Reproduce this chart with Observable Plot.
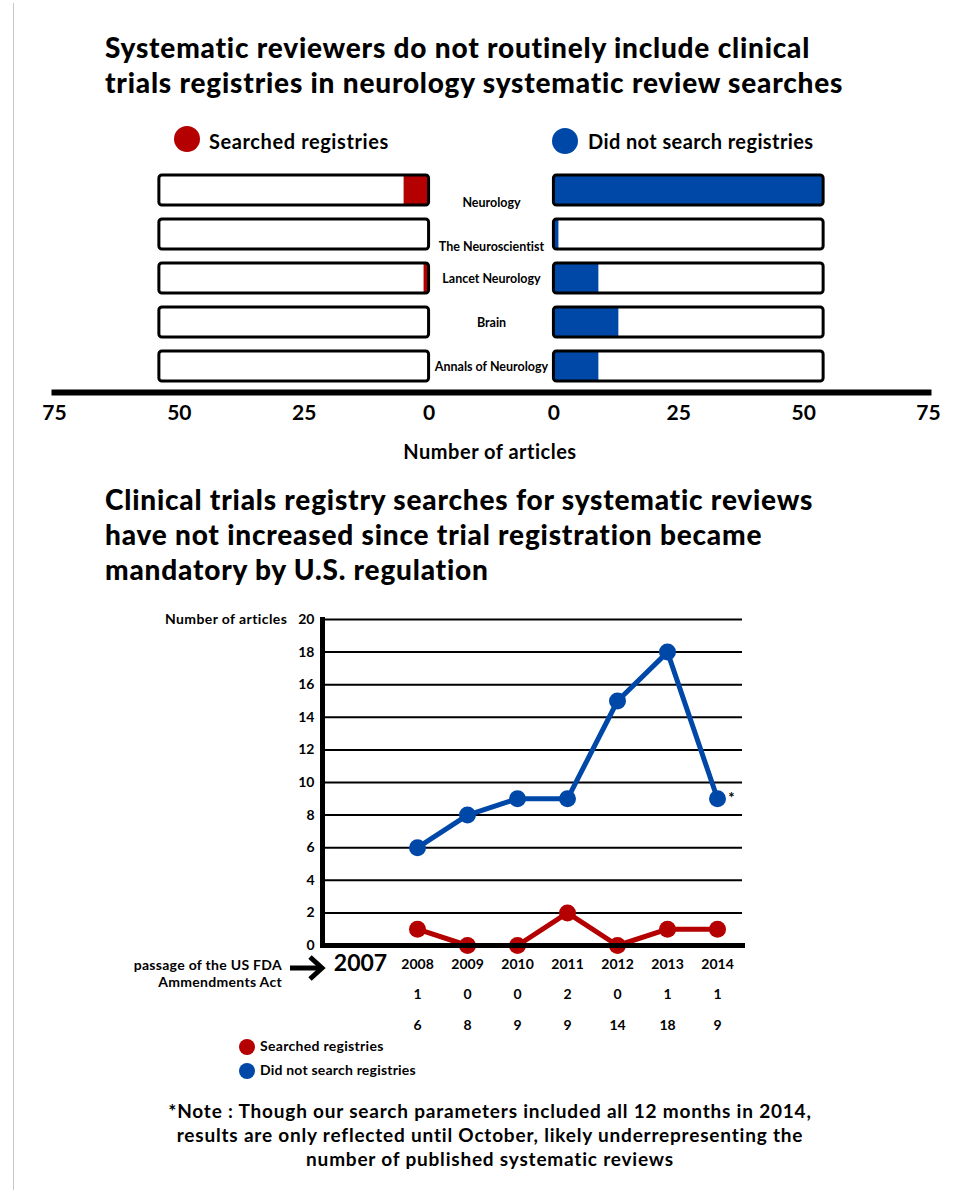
<!DOCTYPE html>
<html>
<head>
<meta charset="utf-8">
<script src="https://cdn.jsdelivr.net/npm/d3@7"></script>
<script src="https://cdn.jsdelivr.net/npm/@observablehq/plot@0.6"></script>
<style>
  html, body { margin: 0; padding: 0; background: #fff; }
  body { width: 966px; height: 1194px; overflow: hidden; font-family: Lato, "Open Sans", sans-serif; font-weight: 700; color: #000; font-variant-ligatures: none; }
  #root { position: relative; width: 966px; height: 1194px; }
  .abs { position: absolute; white-space: nowrap; }
  .title { font-size: 28px; font-weight: 900; line-height: 35px; left: 105px; letter-spacing: 0.8px; }
  .dot { position: absolute; border-radius: 50%; }
  #border { position: absolute; left: 13px; top: 3px; width: 0; height: 1187px; border-left: 1px solid #c8c8c8; }
  svg text { font-variant-ligatures: none; }
</style>
</head>
<body>
<div id="root">
  <div id="border"></div>
  <div class="abs title" style="top:30px;">Systematic reviewers do not routinely include clinical<br>trials registries in neurology systematic review searches</div>

  <div class="dot" style="left:174px;top:126px;width:26px;height:26px;background:#B40000"></div>
  <div class="abs" style="left:209px;top:129px;font-size:20px;letter-spacing:0.6px;">Searched registries</div>
  <div class="dot" style="left:552px;top:128px;width:26px;height:26px;background:#0048A8"></div>
  <div class="abs" style="left:588px;top:129px;font-size:20px;letter-spacing:0.4px;">Did not search registries</div>

  <div id="topChart" class="abs" style="left:0;top:160px;"></div>
  <div class="abs" style="left:0;width:980px;text-align:center;top:439px;font-size:20px;letter-spacing:0.5px;">Number of articles</div>

  <div class="abs title" style="top:482px;">Clinical trials registry searches for systematic reviews<br>have not increased since trial registration became<br>mandatory by U.S. regulation</div>

  <div id="bottomChart" class="abs" style="left:0;top:600px;"></div>
  <div class="abs" style="left:165px;top:610px;font-size:14px;letter-spacing:0.4px;">Number of articles</div>
  <div class="abs" style="right:684px;top:956px;font-size:14px;line-height:17px;text-align:right;letter-spacing:0.3px;">passage of the US FDA<br>Ammendments Act</div>
  <svg class="abs" style="left:288px;top:954px;" width="40" height="28" viewBox="0 0 40 28">
    <path d="M2 14 H33" stroke="#000" stroke-width="5" fill="none"/>
    <path d="M22 3 L34 14 L22 25" stroke="#000" stroke-width="5" fill="none" stroke-linejoin="miter"/>
  </svg>

  <div class="dot" style="left:239px;top:1039px;width:16px;height:16px;background:#B40000"></div>
  <div class="abs" style="left:260px;top:1037px;font-size:14px;letter-spacing:0.3px;">Searched registries</div>
  <div class="dot" style="left:239px;top:1063px;width:16px;height:16px;background:#0048A8"></div>
  <div class="abs" style="left:260px;top:1061px;font-size:14px;letter-spacing:0.2px;">Did not search registries</div>

  <div class="abs" style="left:0;width:980px;text-align:center;top:1099px;font-size:19px;line-height:24px;letter-spacing:0.8px;">*Note : Though our search parameters included all 12 months in 2014,<br>results are only reflected until October, likely underrepresenting the<br>number of published systematic reviews</div>
</div>
<script>
// ---------- Data: journals (top chart) ----------
const journals = ["Neurology", "The Neuroscientist", "Lancet Neurology", "Brain", "Annals of Neurology"];
const searchedByJournal = [5, 0, 1, 0, 0];
const notSearchedByJournal = [54, 1, 9, 13, 9];
const journalScaleMax = 54;          // extent of the outlined background bars
const journalTicks = [0, 25, 50, 75];

// ---------- Data: years (bottom chart) ----------
const years = [2008, 2009, 2010, 2011, 2012, 2013, 2014];
const searchedByYear = [1, 0, 0, 2, 0, 1, 1];
const notSearchedByYear = [6, 8, 9, 9, 15, 18, 9];
const tableSearched = ["1", "0", "0", "2", "0", "1", "1"];
const tableNotSearched = ["6", "8", "9", "9", "14", "18", "9"];
const lawYear = 2007;
const countTicks = [0, 2, 4, 6, 8, 10, 12, 14, 16, 18, 20];

const RED = "#B40000", BLUE = "#0048A8";
const FONT = "Lato, 'Open Sans', sans-serif";

// ---------- Top chart: mirrored bars ----------
const gap = 12.5; // half-gap between the two panels, in article units
const rows = journals.map((j, i) => ({journal: j, searched: searchedByJournal[i], notSearched: notSearchedByJournal[i]}));
const tickMax = d3.max(journalTicks);
const tickPositions = [...journalTicks.map(t => -(t + gap)), ...journalTicks.map(t => t + gap)];

const topPlot = Plot.plot({
  width: 966, height: 270,
  marginLeft: 54, marginRight: 38, marginTop: 3, marginBottom: 38,
  style: {fontFamily: FONT, fontWeight: 700, background: "transparent", overflow: "visible"},
  x: {domain: [-(tickMax + gap), tickMax + gap]},
  y: {domain: journals, paddingInner: 0.324, paddingOuter: 0.24, axis: null},
  marks: [
    Plot.barX(rows, {y: "journal", x1: () => -(journalScaleMax + gap), x2: () => -gap, fill: "white"}),
    Plot.barX(rows, {y: "journal", x1: () => gap, x2: () => journalScaleMax + gap, fill: "white"}),
    Plot.barX(rows, {y: "journal", x1: d => -(d.searched + gap), x2: () => -gap, fill: RED}),
    Plot.barX(rows, {y: "journal", x1: () => gap, x2: d => d.notSearched + gap, fill: BLUE}),
    Plot.barX(rows, {y: "journal", x1: () => -(journalScaleMax + gap), x2: () => -gap, fill: "none", stroke: "black", strokeWidth: 3, rx: 3}),
    Plot.barX(rows, {y: "journal", x1: () => gap, x2: () => journalScaleMax + gap, fill: "none", stroke: "black", strokeWidth: 3, rx: 3}),
    Plot.text(rows, {filter: (d, i) => i < 2, y: "journal", x: () => 0, text: "journal", fontSize: 12.5, fontWeight: 700, dy: 12}),
    Plot.text(rows, {filter: (d, i) => i >= 2, y: "journal", x: () => 0, text: "journal", fontSize: 12.5, fontWeight: 700, dy: 0}),
    Plot.frame({anchor: "bottom", stroke: "black", strokeWidth: 6}),
    Plot.axisX({ticks: tickPositions, tickFormat: d => String(Math.abs(d) - gap), tickSize: 0, tickPadding: 13, fontSize: 21, fontWeight: 700, label: null})
  ]
});
document.getElementById("topChart").appendChild(topPlot);

// ---------- Bottom chart: lines over years ----------
const lineData = [
  ...years.map((y, i) => ({year: y, value: searchedByYear[i], series: "Searched registries"})),
  ...years.map((y, i) => ({year: y, value: notSearchedByYear[i], series: "Did not search registries"}))
];
const lastYear = d3.max(years);

const bottomPlot = Plot.plot({
  width: 966, height: 450,
  marginLeft: 322, marginRight: 224, marginTop: 19, marginBottom: 105,
  style: {fontFamily: FONT, fontWeight: 700, background: "transparent", overflow: "visible"},
  x: {domain: [lawYear - 0.9, lastYear + 0.5]},
  y: {domain: [0, d3.max(countTicks)]},
  color: {domain: ["Searched registries", "Did not search registries"], range: [RED, BLUE]},
  marks: [
    Plot.ruleY(countTicks.filter(d => d > 0), {stroke: "black", strokeWidth: 2}),
    Plot.axisY({ticks: countTicks, tickSize: 0, tickPadding: 8, fontSize: 14, fontWeight: 700, label: null}),
    Plot.axisX({ticks: years, tickFormat: d => String(d), tickSize: 0, tickPadding: 14, fontSize: 14, fontWeight: 700, label: null}),
    Plot.text([lawYear], {x: d => d, frameAnchor: "bottom", dy: 25, dx: -7, text: d => String(d), fontSize: 23, fontWeight: 700}),
    Plot.text(years, {x: d => d, frameAnchor: "bottom", dy: 53, text: (d, i) => tableSearched[i], fontSize: 14, fontWeight: 700}),
    Plot.text(years, {x: d => d, frameAnchor: "bottom", dy: 84, text: (d, i) => tableNotSearched[i], fontSize: 14, fontWeight: 700}),
    Plot.line(lineData, {x: "year", y: "value", z: "series", stroke: "series", strokeWidth: 5}),
    Plot.dot(lineData, {x: "year", y: "value", fill: "series", r: 8.5}),
    Plot.text(lineData.filter(d => d.year === lastYear && d.series === "Did not search registries"), {x: "year", y: "value", text: () => "*", dx: 14, dy: -1, fontSize: 15, fontWeight: 700}),
    Plot.frame({anchor: "left", stroke: "black", strokeWidth: 5}),
    Plot.frame({anchor: "bottom", stroke: "black", strokeWidth: 5})
  ]
});
document.getElementById("bottomChart").appendChild(bottomPlot);
</script>
</body>
</html>
